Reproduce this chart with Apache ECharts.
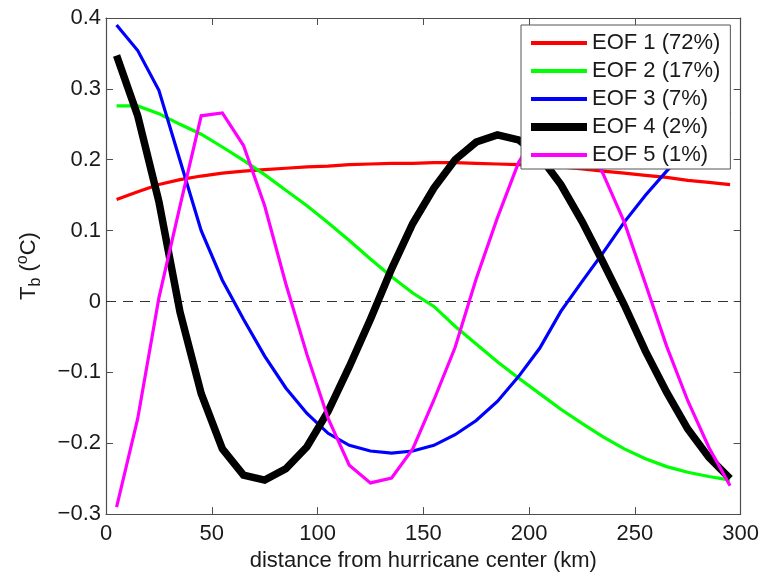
<!DOCTYPE html>
<html>
<head>
<meta charset="utf-8">
<script src="https://cdn.jsdelivr.net/npm/echarts@6/dist/echarts.min.js"></script>
<style>
html,body{margin:0;padding:0;background:#fff;}
#chart{width:762px;height:577px;}
</style>
</head>
<body>
<div id="chart"></div>
<script>
var distances = [5,15,25,35,45,55,65,75,85,95,105,115,125,135,145,155,165,175,185,195,205,215,225,235,245,255,265,275,285,295];
var eof1 = [0.144,0.155,0.165,0.172,0.177,0.181,0.184,0.186,0.188,0.190,0.191,0.193,0.194,0.195,0.195,0.196,0.196,0.195,0.194,0.193,0.192,0.190,0.187,0.184,0.181,0.178,0.175,0.171,0.168,0.165];
var eof2 = [0.276,0.276,0.265,0.250,0.236,0.218,0.199,0.179,0.157,0.135,0.111,0.086,0.060,0.035,0.012,-0.007,-0.035,-0.060,-0.085,-0.108,-0.130,-0.152,-0.172,-0.191,-0.208,-0.222,-0.233,-0.241,-0.247,-0.252];
var eof3 = [0.390,0.354,0.298,0.199,0.100,0.030,-0.025,-0.077,-0.122,-0.158,-0.186,-0.203,-0.211,-0.214,-0.211,-0.203,-0.188,-0.168,-0.141,-0.106,-0.066,-0.014,0.028,0.069,0.112,0.150,0.184,0.214,0.242,0.268];
var eof4 = [0.347,0.262,0.141,-0.015,-0.130,-0.208,-0.245,-0.252,-0.236,-0.205,-0.155,-0.092,-0.025,0.046,0.110,0.160,0.200,0.225,0.235,0.228,0.205,0.165,0.113,0.055,-0.005,-0.070,-0.128,-0.180,-0.220,-0.250];
var eof5 = [-0.290,-0.165,0.005,0.135,0.262,0.266,0.220,0.135,0.025,-0.075,-0.165,-0.231,-0.256,-0.249,-0.208,-0.139,-0.065,0.032,0.118,0.196,0.245,0.262,0.240,0.180,0.112,0.025,-0.063,-0.140,-0.206,-0.260];
var seriesNames = ['EOF 1 (72%)','EOF 2 (17%)','EOF 3 (7%)','EOF 4 (2%)','EOF 5 (1%)'];
var xTicks = [0,50,100,150,200,250,300];
var yTicks = [-0.3,-0.2,-0.1,0,0.1,0.2,0.3,0.4];

var FONT = '"Liberation Sans", Arial, Helvetica, sans-serif';
var TXT = '#1a1a1a';
var AX = '#4d4d4d';

function pairs(vals){ return distances.map(function(d,i){ return [d, vals[i]]; }); }

var colors = ['#ff0000','#00ff00','#0000ff','#000000','#ff00ff'];
var widths = [3.2,3.2,3.2,7.5,3.2];
var allVals = [eof1,eof2,eof3,eof4,eof5];

var series = allVals.map(function(v,i){
  return {
    name: seriesNames[i], type:'line', data: pairs(v),
    showSymbol:false, symbol:'none', smooth:false,
    lineStyle:{color:colors[i], width:widths[i], cap:'butt', join:'miter'},
    itemStyle:{color:colors[i]},
    z: 3,
    silent:true
  };
});
series[0].markLine = {
  silent:true, symbol:['none','none'], label:{show:false},
  lineStyle:{color:'#333', width:1.2, type:[10,7]},
  z: 1,
  data:[{yAxis:0}]
};

var legendData = seriesNames.map(function(n,i){
  var h = widths[i] >= 5 ? 8 : 4;
  return {name:n, icon:'path://M0,0 L56,0 L56,' + h + ' L0,' + h + ' Z', itemStyle:{color:colors[i]}};
});

var chart = echarts.init(document.getElementById('chart'), null, {renderer:'canvas'});
chart.setOption({
  animation:false,
  backgroundColor:'#fff',
  grid:{left:106, right:19, top:18, bottom:59, containLabel:false},
  legend:{
    show:true, orient:'vertical', left:521, top:25,
    data: legendData,
    itemWidth:56, itemHeight:14, itemGap:6,
    symbolKeepAspect:true,
    padding:[7,10,3,10],
    backgroundColor:'#fff', borderColor:'#555', borderWidth:1, borderRadius:0,
    textStyle:{fontFamily:FONT, fontSize:22, lineHeight:22, color:TXT},
    selectedMode:false, align:'left'
  },
  xAxis:[{
    type:'value', min:xTicks[0], max:xTicks[xTicks.length-1], interval:50,
    position:'bottom',
    name:'distance from hurricane center (km)', nameLocation:'middle', nameGap:30,
    nameTextStyle:{fontFamily:FONT, fontSize:22, color:TXT},
    axisLine:{show:true, onZero:false, lineStyle:{color:AX, width:1.2}},
    axisTick:{show:true, inside:true, length:7, lineStyle:{color:AX}},
    axisLabel:{fontFamily:FONT, fontSize:22, color:TXT, margin:9},
    splitLine:{show:false}
  },{
    type:'value', min:0, max:300, interval:50, position:'top',
    axisLine:{show:true, onZero:false, lineStyle:{color:AX, width:1.2}},
    axisTick:{show:true, inside:true, length:7, lineStyle:{color:AX}},
    axisLabel:{show:false}, splitLine:{show:false}
  }],
  yAxis:[{
    type:'value', min:yTicks[0], max:yTicks[yTicks.length-1], interval:0.1,
    position:'left',
    name:'{t|T}{sub|b}{t| (}{sup|o}{t|C)}', nameLocation:'middle', nameGap:62, nameRotate:90,
    nameTextStyle:{fontFamily:FONT, fontSize:22, color:TXT,
      rich:{
        t:{fontFamily:FONT, fontSize:22, color:TXT},
        sub:{fontFamily:FONT, fontSize:16, color:TXT, padding:[14,0,0,0]},
        sup:{fontFamily:FONT, fontSize:16, color:TXT, padding:[0,0,12,0]}
      }},
    axisLine:{show:true, onZero:false, lineStyle:{color:AX, width:1.2}},
    axisTick:{show:true, inside:true, length:7, lineStyle:{color:AX}},
    axisLabel:{fontFamily:FONT, fontSize:22, color:TXT, margin:5,
      formatter:function(v){ var r=Math.round(v*10)/10; if(r===0) return '0'; return (r<0?'\u2212':'')+Math.abs(r).toFixed(1); }},
    splitLine:{show:false}
  },{
    type:'value', min:-0.3, max:0.4, interval:0.1, position:'right',
    axisLine:{show:true, onZero:false, lineStyle:{color:AX, width:1.2}},
    axisTick:{show:true, inside:true, length:7, lineStyle:{color:AX}},
    axisLabel:{show:false}, splitLine:{show:false}
  }],
  series: series
});
</script>
</body>
</html>
